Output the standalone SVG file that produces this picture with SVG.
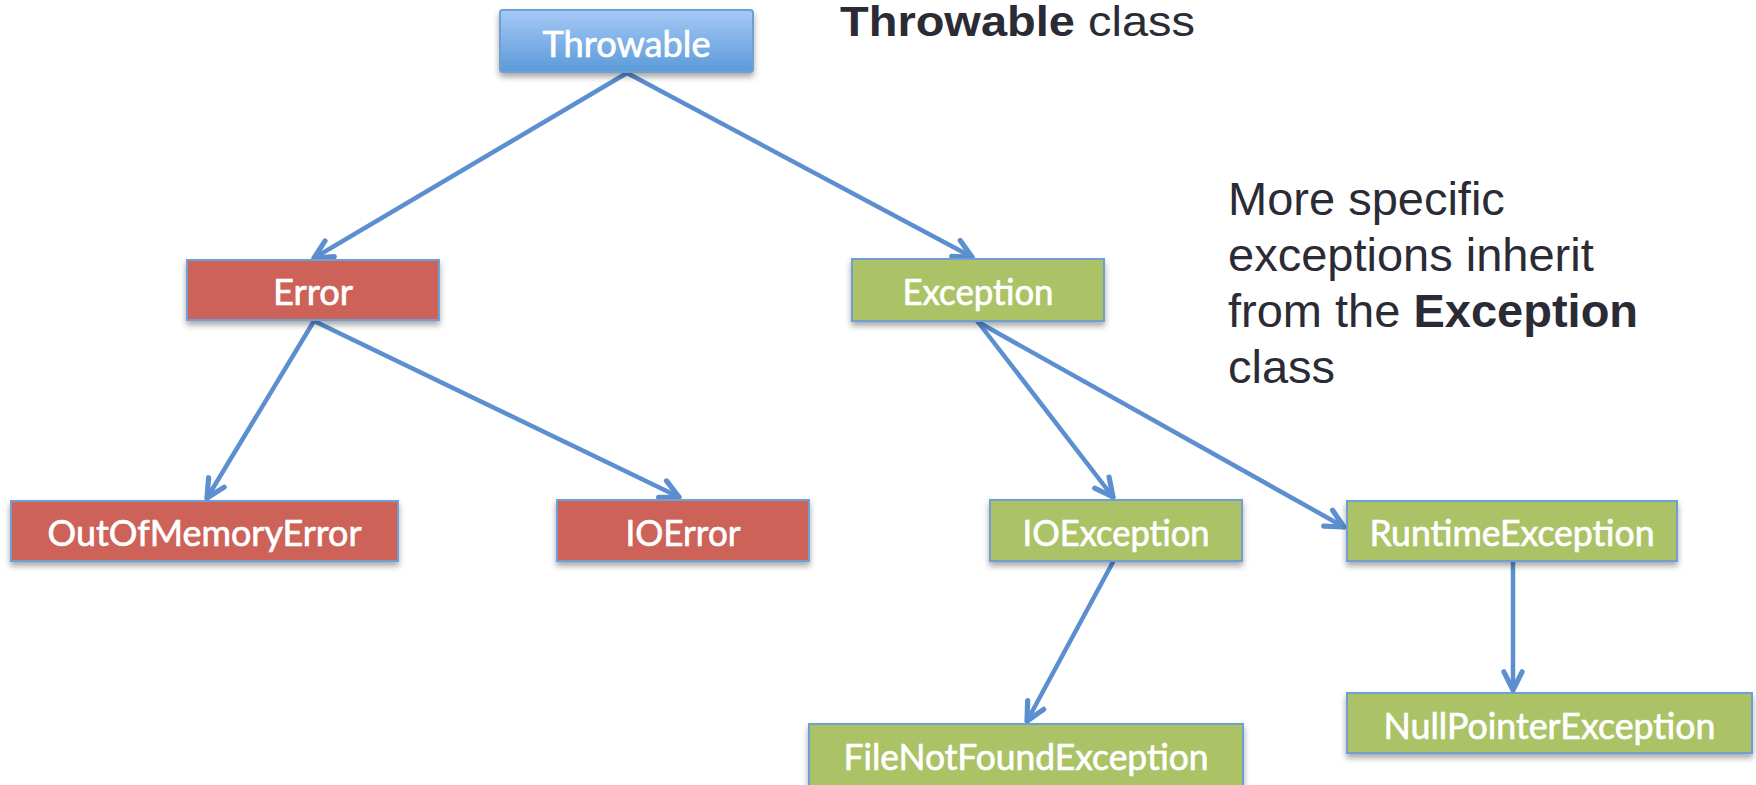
<svg xmlns="http://www.w3.org/2000/svg" width="1756" height="785" viewBox="0 0 1756 785">
<style>
.box{stroke:#6f9fd6;stroke-width:2}
.red{fill:#cc6259}
.green{fill:#abc266}
.lbl{font-family:Lato,"Open Sans","Liberation Sans",sans-serif;font-size:36px;fill:#ffffff;stroke:#ffffff;stroke-width:0.7;text-anchor:middle}
.note{font-family:"Liberation Sans",Arial,sans-serif;fill:#2b2b35}
.conn{stroke:#5b8fd0;stroke-width:4.5;fill:none;stroke-linecap:round}
</style>
<defs>
<linearGradient id="blueGrad" x1="0" y1="0" x2="0" y2="1">
<stop offset="0" stop-color="#a5c9f6"/>
<stop offset="1" stop-color="#5b9ad9"/>
</linearGradient>
<filter id="shadow" x="-10%" y="-20%" width="120%" height="160%">
<feDropShadow dx="0" dy="4" stdDeviation="3" flood-color="#000" flood-opacity="0.35"/>
</filter>
<marker id="arrow" markerUnits="userSpaceOnUse" markerWidth="26" markerHeight="26" viewBox="0 0 20 20" refX="17" refY="10" orient="auto">
<path d="M3,3 L17,10 L3,17" fill="none" stroke="#5b8fd0" stroke-width="4" stroke-linecap="round" stroke-linejoin="round"/>
</marker>
</defs>
<rect width="1756" height="785" fill="#ffffff"/>
<g id="connectors">
<line class="conn" x1="627" y1="73" x2="314" y2="258" marker-end="url(#arrow)"/>
<line class="conn" x1="627" y1="73" x2="972" y2="257" marker-end="url(#arrow)"/>
<line class="conn" x1="314" y1="321" x2="207" y2="498" marker-end="url(#arrow)"/>
<line class="conn" x1="314" y1="321" x2="679" y2="497" marker-end="url(#arrow)"/>
<line class="conn" x1="978" y1="322" x2="1113" y2="497" marker-end="url(#arrow)"/>
<line class="conn" x1="978" y1="322" x2="1344" y2="527" marker-end="url(#arrow)"/>
<line class="conn" x1="1113" y1="562" x2="1027" y2="721" marker-end="url(#arrow)"/>
<line class="conn" x1="1513" y1="562" x2="1513" y2="690" marker-end="url(#arrow)"/>
</g>
<g id="throwable">
<rect class="box" x="500" y="10" width="253" height="62" rx="3" fill="url(#blueGrad)" filter="url(#shadow)"/>
<text class="lbl" x="626.5" y="57" textLength="168" lengthAdjust="spacingAndGlyphs">Throwable</text>
</g>
<g id="error">
<rect class="box red" x="187" y="260" width="252" height="60" filter="url(#shadow)"/>
<text class="lbl" x="313" y="305" textLength="80" lengthAdjust="spacingAndGlyphs">Error</text>
</g>
<g id="exception">
<rect class="box green" x="852" y="259" width="252" height="62" filter="url(#shadow)"/>
<text class="lbl" x="978" y="305" textLength="151" lengthAdjust="spacingAndGlyphs">Exception</text>
</g>
<g id="outofmemoryerror">
<rect class="box red" x="11" y="501" width="387" height="60" filter="url(#shadow)"/>
<text class="lbl" x="204.5" y="546" textLength="314" lengthAdjust="spacingAndGlyphs">OutOfMemoryError</text>
</g>
<g id="ioerror">
<rect class="box red" x="557" y="500" width="252" height="61" filter="url(#shadow)"/>
<text class="lbl" x="683" y="546" textLength="115" lengthAdjust="spacingAndGlyphs">IOError</text>
</g>
<g id="ioexception">
<rect class="box green" x="990" y="500" width="252" height="61" filter="url(#shadow)"/>
<text class="lbl" x="1116" y="546" textLength="187" lengthAdjust="spacingAndGlyphs">IOException</text>
</g>
<g id="runtimeexception">
<rect class="box green" x="1347" y="501" width="330" height="60" filter="url(#shadow)"/>
<text class="lbl" x="1512" y="546" textLength="285" lengthAdjust="spacingAndGlyphs">RuntimeException</text>
</g>
<g id="filenotfoundexception">
<rect class="box green" x="809" y="724" width="434" height="62" filter="url(#shadow)"/>
<text class="lbl" x="1026" y="770" textLength="365" lengthAdjust="spacingAndGlyphs">FileNotFoundException</text>
</g>
<g id="nullpointerexception">
<rect class="box green" x="1347" y="693" width="405" height="60" filter="url(#shadow)"/>
<text class="lbl" x="1549.5" y="739" textLength="332" lengthAdjust="spacingAndGlyphs">NullPointerException</text>
</g>
<g id="notes">
<text class="note" x="840" y="36" font-size="42" textLength="355" lengthAdjust="spacingAndGlyphs"><tspan font-weight="bold">Throwable</tspan> class</text>
<text class="note" x="1228" y="215" font-size="47">More specific</text>
<text class="note" x="1228" y="271" font-size="47">exceptions inherit</text>
<text class="note" x="1228" y="327" font-size="47">from the <tspan font-weight="bold">Exception</tspan></text>
<text class="note" x="1228" y="383" font-size="47">class</text>
</g>
</svg>
